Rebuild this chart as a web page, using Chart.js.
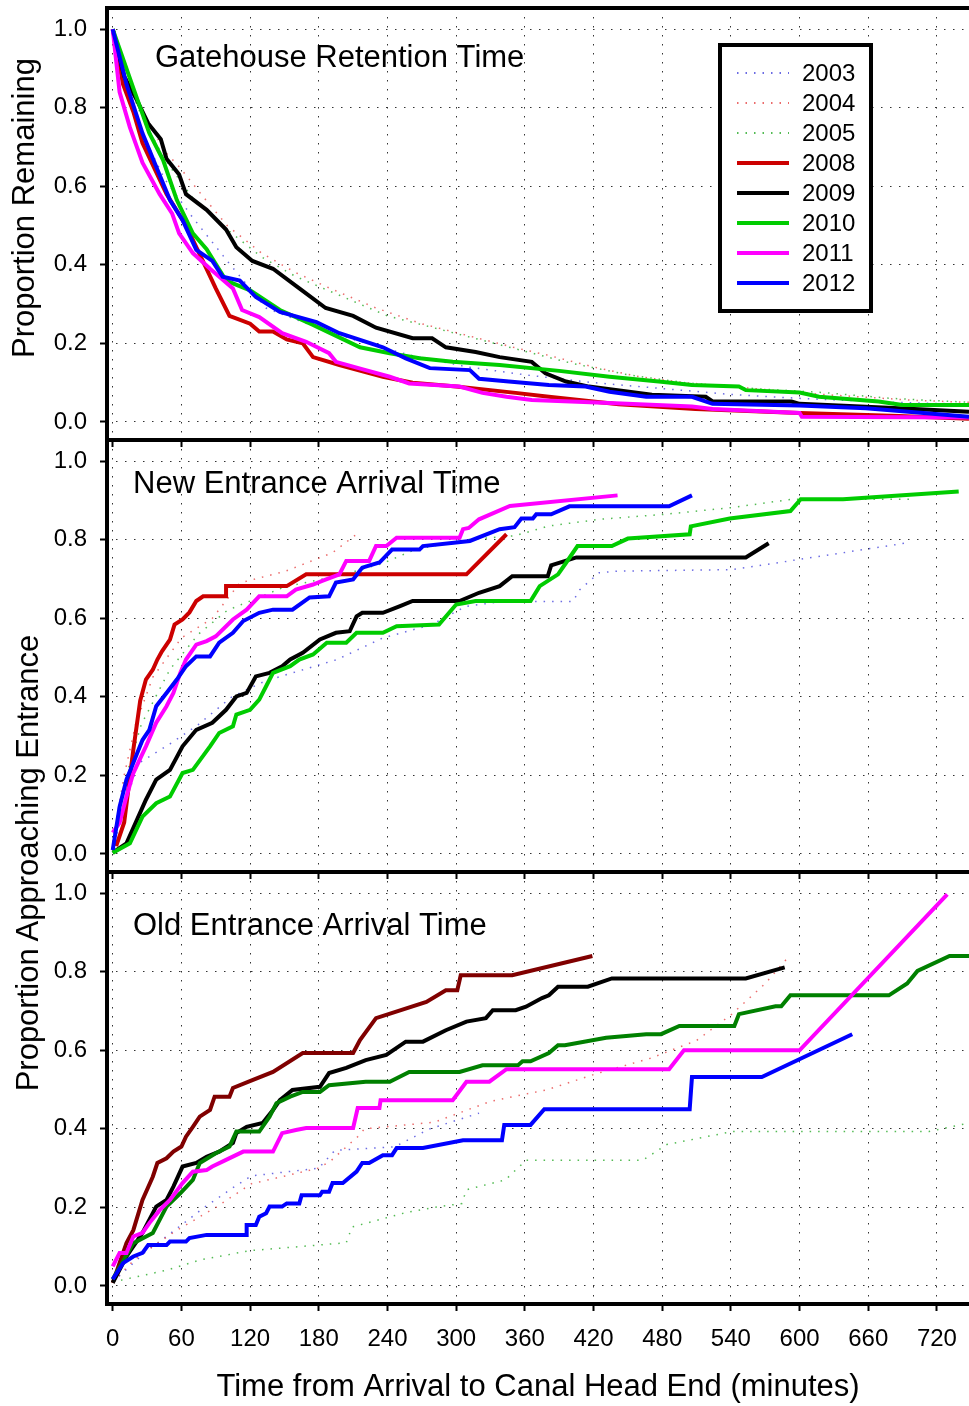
<!DOCTYPE html>
<html>
<head>
<meta charset="utf-8">
<script src="https://cdn.jsdelivr.net/npm/chart.js@4.4.0/dist/chart.umd.min.js"></script>
<style>
  html, body { margin: 0; padding: 0; background: #fff; overflow: hidden; }
  #wrap { position: relative; width: 969px; height: 1406px; }
  canvas { position: absolute; left: 0; }
  .ytitle {
    position: absolute; height: 36px; line-height: 36px; text-align: center;
    transform: rotate(-90deg); font: 31px "Liberation Sans", Arial, sans-serif;
    color: #000; white-space: nowrap;
  }
  #yTitle1 { left: -176px; top: 190px; width: 400px; }
  #yTitle2 { left: -222px; top: 845px; width: 500px; }
</style>
</head>
<body>
<div id="wrap">
  <canvas id="gate" width="969" height="452" style="top:0px"></canvas>
  <canvas id="newEnt" width="969" height="454" style="top:430px"></canvas>
  <canvas id="oldEnt" width="969" height="544" style="top:862px"></canvas>
  <div class="ytitle" id="yTitle1">Proportion Remaining</div>
  <div class="ytitle" id="yTitle2">Proportion Approaching Entrance</div>
</div>
<script>
const years = ['2003', '2004', '2005', '2008', '2009', '2010', '2011', '2012'];
const xTicks = [0, 60, 120, 180, 240, 300, 360, 420, 480, 540, 600, 660, 720];
const yTicks = [0, 0.2, 0.4, 0.6, 0.8, 1.0];

// Gatehouse retention time: [minutes, proportion remaining]
const gate2003 = [[0,1],[10,0.88],[25,0.74],[45,0.62],[70,0.52],[100,0.41],[134,0.29],[170,0.25],[210,0.21],[260,0.17],[310,0.14],[360,0.12],[420,0.1],[480,0.085],[540,0.07],[600,0.06],[680,0.05],[748,0.045]];
const gate2004 = [[0,1],[10,0.9],[25,0.8],[45,0.69],[58,0.65],[80,0.57],[100,0.5],[130,0.43],[160,0.38],[190,0.34],[230,0.29],[270,0.25],[310,0.22],[350,0.19],[380,0.17],[420,0.14],[460,0.115],[500,0.1],[560,0.085],[620,0.07],[700,0.055],[748,0.05]];
const gate2005 = [[0,1],[10,0.89],[25,0.78],[45,0.67],[70,0.57],[100,0.49],[130,0.42],[160,0.37],[200,0.32],[240,0.27],[280,0.24],[320,0.21],[360,0.18],[400,0.15],[450,0.12],[500,0.1],[560,0.085],[620,0.075],[680,0.06],[748,0.05]];
const gate2008 = [[0,1],[9,0.86],[18,0.79],[26,0.71],[47,0.58],[64,0.5],[82,0.39],[90,0.34],[102,0.27],[120,0.25],[128,0.23],[140,0.23],[152,0.21],[166,0.2],[175,0.165],[198,0.145],[236,0.115],[262,0.1],[300,0.09],[352,0.074],[381,0.064],[442,0.045],[509,0.033],[600,0.023],[687,0.015],[748,0.008]];
const gate2009 = [[0,1],[10,0.88],[21,0.82],[31,0.76],[42,0.72],[47,0.67],[58,0.63],[64,0.58],[82,0.54],[99,0.49],[108,0.445],[122,0.41],[140,0.39],[163,0.34],[186,0.29],[210,0.27],[230,0.24],[262,0.213],[279,0.213],[291,0.19],[317,0.178],[338,0.165],[366,0.153],[378,0.124],[396,0.103],[416,0.09],[471,0.069],[518,0.064],[524,0.052],[593,0.052],[600,0.046],[687,0.035],[748,0.026]];
const gate2010 = [[0,1],[6,0.95],[18,0.85],[32,0.735],[44,0.667],[56,0.565],[70,0.48],[82,0.44],[99,0.36],[120,0.335],[146,0.285],[175,0.247],[216,0.19],[242,0.175],[268,0.162],[297,0.153],[338,0.145],[390,0.13],[434,0.115],[477,0.103],[506,0.094],[547,0.09],[553,0.081],[600,0.075],[617,0.064],[669,0.052],[690,0.043],[748,0.043]];
const gate2011 = [[0,1],[6,0.84],[15,0.75],[26,0.66],[41,0.58],[52,0.53],[58,0.48],[70,0.43],[85,0.39],[105,0.34],[113,0.285],[128,0.267],[148,0.226],[169,0.204],[189,0.175],[195,0.153],[221,0.132],[242,0.115],[259,0.098],[303,0.09],[323,0.074],[344,0.064],[366,0.056],[434,0.048],[506,0.039],[524,0.033],[600,0.023],[602,0.013],[748,0.011]];
const gate2012 = [[0,1],[12,0.86],[26,0.735],[38,0.65],[50,0.565],[61,0.514],[73,0.438],[87,0.41],[96,0.37],[111,0.36],[125,0.318],[146,0.28],[178,0.254],[198,0.226],[236,0.19],[256,0.162],[277,0.137],[312,0.132],[320,0.11],[346,0.103],[381,0.094],[413,0.09],[434,0.077],[466,0.064],[506,0.064],[524,0.046],[600,0.042],[658,0.035],[748,0.013]];

// New entrance arrival time: [minutes, proportion arrived]
const new2003 = [[0,0.01],[7,0.09],[22,0.23],[50,0.28],[75,0.33],[104,0.4],[133,0.44],[196,0.495],[236,0.55],[279,0.584],[308,0.63],[340,0.643],[402,0.643],[408,0.673],[425,0.716],[440,0.72],[541,0.724],[600,0.75],[696,0.793]];
const new2004 = [[0,0.03],[10,0.2],[20,0.33],[35,0.45],[60,0.55],[87,0.6],[111,0.69],[151,0.72],[192,0.767],[213,0.814]];
const new2005 = [[0,0.03],[10,0.18],[25,0.33],[50,0.47],[75,0.56],[100,0.62],[150,0.68],[200,0.71],[236,0.74],[264,0.775],[308,0.8],[351,0.81],[381,0.835],[425,0.852],[483,0.865],[541,0.882],[593,0.903],[701,0.903]];
const new2008 = [[3,0.02],[10,0.08],[18,0.265],[24,0.39],[29,0.444],[35,0.469],[39,0.495],[43,0.516],[50,0.546],[54,0.584],[61,0.597],[67,0.615],[73,0.644],[79,0.656],[99,0.656],[99,0.682],[152,0.682],[169,0.712],[309,0.712],[344,0.814]];
const new2009 = [[0,0.003],[12,0.027],[29,0.138],[38,0.189],[50,0.214],[61,0.274],[73,0.316],[87,0.334],[99,0.367],[108,0.401],[117,0.41],[125,0.452],[137,0.461],[148,0.478],[155,0.495],[166,0.512],[181,0.546],[195,0.563],[207,0.567],[213,0.605],[218,0.614],[236,0.614],[251,0.631],[262,0.644],[303,0.644],[320,0.665],[338,0.682],[349,0.707],[380,0.707],[383,0.735],[405,0.755],[553,0.755],[573,0.791]];
const new2010 = [[0,0.003],[15,0.027],[26,0.095],[38,0.129],[50,0.146],[61,0.206],[70,0.214],[85,0.274],[93,0.308],[105,0.325],[108,0.355],[120,0.367],[128,0.393],[134,0.427],[140,0.461],[155,0.478],[163,0.495],[175,0.508],[187,0.538],[204,0.538],[213,0.563],[236,0.563],[248,0.58],[285,0.584],[300,0.635],[317,0.644],[365,0.644],[373,0.682],[389,0.712],[395,0.737],[406,0.784],[436,0.784],[450,0.803],[504,0.814],[505,0.834],[539,0.854],[592,0.873],[601,0.903],[638,0.903],[739,0.923]];
const new2011 = [[0,0.054],[6,0.079],[12,0.146],[18,0.206],[29,0.274],[38,0.334],[47,0.376],[53,0.41],[59,0.461],[64,0.495],[73,0.533],[82,0.542],[90,0.554],[105,0.597],[117,0.622],[128,0.656],[152,0.656],[160,0.673],[175,0.686],[183,0.695],[198,0.712],[204,0.746],[224,0.746],[230,0.784],[239,0.784],[248,0.805],[303,0.805],[306,0.827],[311,0.83],[320,0.852],[347,0.886],[441,0.913]];
const new2012 = [[0,0.01],[6,0.12],[12,0.189],[18,0.232],[26,0.29],[32,0.316],[38,0.376],[47,0.41],[56,0.444],[64,0.478],[73,0.503],[85,0.503],[93,0.538],[105,0.563],[114,0.593],[128,0.614],[140,0.622],[157,0.622],[172,0.653],[189,0.656],[195,0.691],[210,0.699],[218,0.729],[233,0.742],[244,0.775],[268,0.775],[271,0.784],[312,0.797],[338,0.827],[351,0.832],[357,0.854],[367,0.854],[370,0.865],[383,0.865],[399,0.885],[486,0.885],[506,0.913]];

// Old entrance arrival time: [minutes, proportion arrived]
const old2003 = [[0,0.01],[15,0.05],[30,0.09],[51,0.135],[80,0.2],[105,0.25],[121,0.28],[180,0.3],[194,0.345],[246,0.354],[277,0.4],[320,0.44]];
const old2004 = [[0,0.01],[20,0.07],[40,0.11],[55,0.14],[90,0.2],[121,0.26],[180,0.3],[191,0.32],[214,0.38],[220,0.4],[281,0.417],[330,0.47],[380,0.5],[422,0.54],[470,0.58],[510,0.625],[540,0.69],[570,0.77],[591,0.84]];
const old2005 = [[0,0.01],[47,0.04],[76,0.066],[120,0.09],[163,0.1],[204,0.11],[209,0.15],[255,0.186],[281,0.2],[305,0.21],[309,0.245],[343,0.27],[361,0.32],[463,0.32],[484,0.36],[541,0.393],[713,0.393],[748,0.415]];
const old2008 = [[0,0.008],[12,0.109],[18,0.142],[26,0.219],[35,0.278],[39,0.313],[47,0.325],[53,0.342],[60,0.355],[64,0.38],[70,0.405],[76,0.431],[85,0.448],[89,0.482],[102,0.482],[105,0.504],[122,0.524],[140,0.545],[166,0.593],[210,0.593],[216,0.626],[230,0.682],[274,0.723],[291,0.753],[301,0.753],[304,0.791],[349,0.791],[419,0.84]];
const old2009 = [[0,0.008],[12,0.075],[26,0.135],[38,0.202],[47,0.219],[53,0.253],[61,0.304],[73,0.313],[82,0.329],[93,0.342],[105,0.364],[108,0.389],[117,0.405],[131,0.415],[140,0.448],[146,0.473],[157,0.499],[181,0.507],[189,0.542],[204,0.555],[221,0.575],[239,0.588],[256,0.622],[271,0.622],[291,0.651],[309,0.673],[326,0.682],[332,0.702],[352,0.702],[361,0.711],[375,0.733],[381,0.74],[389,0.762],[415,0.762],[436,0.783],[553,0.783],[587,0.811]];
const old2010 = [[0,0.017],[18,0.109],[35,0.135],[47,0.202],[59,0.236],[70,0.27],[76,0.313],[90,0.338],[102,0.355],[108,0.393],[128,0.393],[137,0.431],[143,0.465],[155,0.482],[166,0.494],[181,0.494],[189,0.511],[221,0.52],[242,0.52],[259,0.545],[303,0.545],[323,0.562],[354,0.562],[358,0.572],[365,0.572],[381,0.593],[389,0.613],[395,0.613],[431,0.632],[466,0.641],[479,0.641],[495,0.662],[543,0.662],[547,0.692],[579,0.712],[584,0.712],[592,0.74],[678,0.74],[694,0.77],[703,0.802],[731,0.84],[748,0.84]];
const old2011 = [[0,0.05],[6,0.084],[12,0.084],[18,0.126],[26,0.135],[32,0.16],[41,0.193],[50,0.219],[61,0.262],[70,0.291],[82,0.295],[87,0.304],[99,0.321],[114,0.342],[140,0.342],[148,0.389],[160,0.397],[169,0.402],[210,0.402],[214,0.453],[233,0.453],[234,0.473],[297,0.473],[309,0.52],[329,0.52],[344,0.552],[486,0.552],[499,0.6],[600,0.6],[729,0.997]];
const old2012 = [[0,0.017],[9,0.058],[18,0.075],[26,0.084],[31,0.104],[47,0.104],[50,0.113],[64,0.113],[67,0.122],[82,0.13],[117,0.13],[117,0.155],[125,0.155],[128,0.176],[134,0.185],[137,0.202],[148,0.202],[152,0.21],[163,0.21],[165,0.231],[181,0.231],[183,0.24],[189,0.24],[192,0.262],[201,0.262],[213,0.291],[218,0.313],[224,0.313],[236,0.333],[244,0.333],[248,0.351],[271,0.351],[306,0.371],[340,0.371],[342,0.41],[365,0.41],[377,0.45],[504,0.45],[506,0.532],[567,0.532],[646,0.641]];

const FONT = '"Liberation Sans", Arial, sans-serif';

// per-year look; dotted years drawn underneath
const yearStyle = {
  '2003': { color: 'rgba(70,70,220,0.8)', width: 1.5, dash: [1.5, 7], order: 8 },
  '2004': { color: 'rgba(230,70,70,0.8)', width: 1.5, dash: [1.5, 7], order: 7 },
  '2005': { color: 'rgba(40,170,40,0.8)', width: 1.5, dash: [1.5, 7], order: 6 },
  '2008': { color: '#cc0000', width: 4, dash: [], order: 5 },
  '2009': { color: '#000000', width: 4, dash: [], order: 4 },
  '2010': { color: '#00cc00', width: 4, dash: [], order: 3 },
  '2011': { color: '#ff00ff', width: 4, dash: [], order: 2 },
  '2012': { color: '#0000ff', width: 4, dash: [], order: 1 }
};

function makeDatasets(series, colorOverride) {
  return years.map((yr, i) => {
    const st = yearStyle[yr];
    return {
      label: yr,
      data: series[i].map(p => ({ x: p[0], y: p[1] })),
      borderColor: (colorOverride && colorOverride[yr]) || st.color,
      borderWidth: st.width,
      borderDash: st.dash,
      order: st.order,
      pointRadius: 0,
      tension: 0,
      fill: false
    };
  });
}

const framePlugin = {
  id: 'frame',
  afterDatasetsDraw(chart) {
    const { ctx, chartArea: a } = chart;
    ctx.save();
    ctx.strokeStyle = '#000';
    ctx.lineWidth = 4;
    ctx.beginPath();
    ctx.moveTo(a.right + 10, a.top);
    ctx.lineTo(a.left, a.top);
    ctx.lineTo(a.left, a.bottom);
    ctx.lineTo(a.right + 10, a.bottom);
    ctx.stroke();
    ctx.restore();
  }
};

const panelLabelPlugin = {
  id: 'panelLabel',
  afterDraw(chart, args, opts) {
    const ctx = chart.ctx;
    ctx.save();
    ctx.font = '31px ' + FONT;
    ctx.fillStyle = '#000';
    ctx.textBaseline = 'alphabetic';
    ctx.fillText(opts.text, opts.x, opts.y);
    ctx.restore();
  }
};

const boxLegendPlugin = {
  id: 'boxLegend',
  afterDraw(chart, args, opts) {
    if (!opts.show) return;
    const ctx = chart.ctx;
    ctx.save();
    ctx.fillStyle = '#fff';
    ctx.fillRect(opts.x, opts.y, opts.w, opts.h);
    ctx.strokeStyle = '#000';
    ctx.lineWidth = 4;
    ctx.strokeRect(opts.x, opts.y, opts.w, opts.h);
    ctx.font = '24px ' + FONT;
    ctx.textBaseline = 'middle';
    chart.data.datasets.forEach((ds, i) => {
      const cy = opts.y + 28 + i * opts.rowH;
      ctx.strokeStyle = ds.borderColor;
      ctx.lineWidth = ds.borderWidth === 4 ? 4 : 2;
      ctx.setLineDash(ds.borderWidth === 4 ? [] : [1.5, 7]);
      ctx.beginPath();
      ctx.moveTo(opts.x + 17, cy);
      ctx.lineTo(opts.x + 69, cy);
      ctx.stroke();
      ctx.setLineDash([]);
      ctx.fillStyle = '#000';
      ctx.fillText(ds.label, opts.x + 82, cy + 1);
    });
    ctx.restore();
  }
};

function panelChart(id, datasets, cfg) {
  return new Chart(document.getElementById(id), {
    type: 'line',
    data: { datasets },
    options: {
      responsive: false,
      animation: false,
      events: [],
      layout: { padding: { top: cfg.padTop, left: 0, right: 0, bottom: 0 } },
      plugins: {
        legend: { display: false },
        tooltip: { enabled: false },
        panelLabel: { text: cfg.label, x: cfg.labelX, y: cfg.labelY },
        boxLegend: { show: !!cfg.legend, x: 720, y: 45, w: 151, h: 266, rowH: 30 }
      },
      scales: {
        x: {
          type: 'linear',
          min: -5,
          max: 748,
          afterBuildTicks: s => { s.ticks = xTicks.map(v => ({ value: v })); },
          afterFit: s => { s.height = cfg.xHeight; s.paddingLeft = 0; s.paddingRight = 0; },
          ticks: {
            display: !!cfg.showX,
            padding: 14,
            color: '#000',
            font: { family: FONT, size: 24 },
            maxRotation: 0,
            callback: v => String(v)
          },
          grid: {
            color: '#333',
            lineWidth: 1,
            tickLength: 7,
            tickWidth: 2,
            tickColor: '#000',
            tickBorderDash: []
          },
          border: { display: false, dash: [1.5, 7.5] },
          title: {
            display: !!cfg.showX,
            text: 'Time from Arrival to Canal Head End (minutes)',
            color: '#000',
            font: { family: FONT, size: 31 },
            padding: { top: 0, bottom: 0 }
          }
        },
        y: {
          min: -0.046,
          max: 1.054,
          afterBuildTicks: s => { s.ticks = yTicks.map(v => ({ value: v })); },
          afterFit: s => { s.width = 107; s.paddingTop = 0; s.paddingBottom = 0; },
          ticks: {
            padding: 13,
            color: '#000',
            font: { family: FONT, size: 24 },
            callback: v => Number(v).toFixed(1)
          },
          grid: {
            color: '#333',
            lineWidth: 1,
            tickLength: 7,
            tickWidth: 2,
            tickColor: '#000',
            tickBorderDash: []
          },
          border: { display: false, dash: [1.5, 7.5] }
        }
      }
    },
    plugins: [framePlugin, panelLabelPlugin, boxLegendPlugin]
  });
}

panelChart('gate',
  makeDatasets([gate2003, gate2004, gate2005, gate2008, gate2009, gate2010, gate2011, gate2012]),
  { padTop: 8, xHeight: 12, label: 'Gatehouse Retention Time', labelX: 155, labelY: 67, legend: true });

panelChart('newEnt',
  makeDatasets([new2003, new2004, new2005, new2008, new2009, new2010, new2011, new2012]),
  { padTop: 10, xHeight: 12, label: 'New Entrance Arrival Time', labelX: 133, labelY: 63 });

panelChart('oldEnt',
  makeDatasets([old2003, old2004, old2005, old2008, old2009, old2010, old2011, old2012],
    { '2008': '#800000', '2010': '#008000' }),
  { padTop: 10, xHeight: 102, label: 'Old Entrance Arrival Time', labelX: 133, labelY: 73, showX: true });
</script>
</body>
</html>
